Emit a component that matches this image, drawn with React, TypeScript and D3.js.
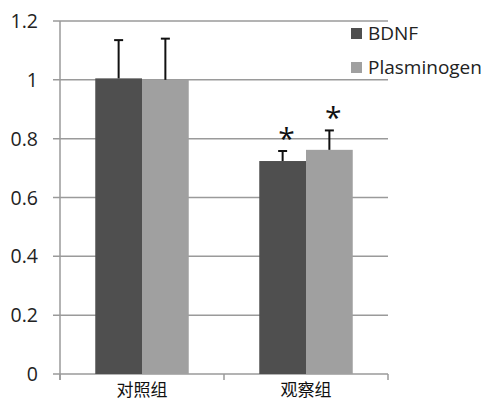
import React from "react";
import * as d3 from "d3";

const categories = ["对照组", "观察组"];
const seriesNames = ["BDNF", "Plasminogen"];
const bdnf = [1.005, 0.724];
const plasminogen = [1.0, 0.762];
const bdnfErr = [0.13, 0.034];
const plasminogenErr = [0.14, 0.066];
const significant = [false, true];
const yTicks = [0, 0.2, 0.4, 0.6, 0.8, 1, 1.2];
const colors = ["#4f4f4f", "#a0a0a0"];

const W = 486, H = 401;
const left = 60, right = 388, top = 21, bottom = 374;

export default function App() {
  const y = d3.scaleLinear().domain([0, 1.2]).range([bottom, top]);
  const x0 = d3.scaleBand().domain(categories).range([left, right]).paddingInner(0.43).paddingOuter(0.215);
  const x1 = d3.scaleBand().domain(seriesNames).range([0, x0.bandwidth()]);
  const values = [bdnf, plasminogen];
  const errs = [bdnfErr, plasminogenErr];
  const step = (right - left) / categories.length;
  const font = "'Open Sans', 'Noto Sans', sans-serif";
  return (
    <svg width={W} height={H} style={{ position: "absolute", left: 0, top: 0, background: "#fff" }}>
      {yTicks.map((t) => (
        <g key={t}>
          <line x1={53} x2={right} y1={y(t)} y2={y(t)} stroke="#9a9a9a" strokeWidth={1.5} />
          <text x={38} y={y(t)} dy="0.36em" textAnchor="end" fontFamily={font} fontSize={19.5} fill="#222">{t}</text>
        </g>
      ))}
      <line x1={left} x2={left} y1={top} y2={bottom + 6} stroke="#9a9a9a" strokeWidth={1.5} />
      {d3.range(categories.length + 1).map((i) => (
        <line key={i} x1={left + i * step} x2={left + i * step} y1={bottom} y2={bottom + 6} stroke="#9a9a9a" strokeWidth={1.5} />
      ))}
      {categories.map((c, ci) => (
        <g key={c}>
          {seriesNames.map((s, si) => {
            const v = values[si][ci];
            const e = errs[si][ci];
            const bx = (x0(c) as number) + (x1(s) as number);
            const cx = bx + x1.bandwidth() / 2;
            return (
              <g key={s}>
                <rect x={bx} y={y(v)} width={x1.bandwidth()} height={bottom - y(v)} fill={colors[si]} />
                <line x1={cx} x2={cx} y1={y(v)} y2={y(v + e)} stroke="#111" strokeWidth={2} />
                <line x1={cx - 4.5} x2={cx + 4.5} y1={y(v + e)} y2={y(v + e)} stroke="#111" strokeWidth={2} />
                {significant[ci] && (
                  <text x={cx + 4} y={y(v + e) - 2.5} textAnchor="middle" fontFamily={font} fontSize={30} fill="#111">*</text>
                )}
              </g>
            );
          })}
          <text x={(x0(c) as number) + x0.bandwidth() / 2} y={396} textAnchor="middle" fontFamily="'Noto Sans CJK SC', sans-serif" fontSize={17} fill="#111">{c}</text>
        </g>
      ))}
      {seriesNames.map((s, si) => (
        <g key={s} transform={`translate(351, ${28 + si * 34})`}>
          <rect x={0} y={0} width={11} height={11} fill={colors[si]} />
          <text x={17} y={12} fontFamily={font} fontSize={19} fill="#222">{s}</text>
        </g>
      ))}
    </svg>
  );
}
